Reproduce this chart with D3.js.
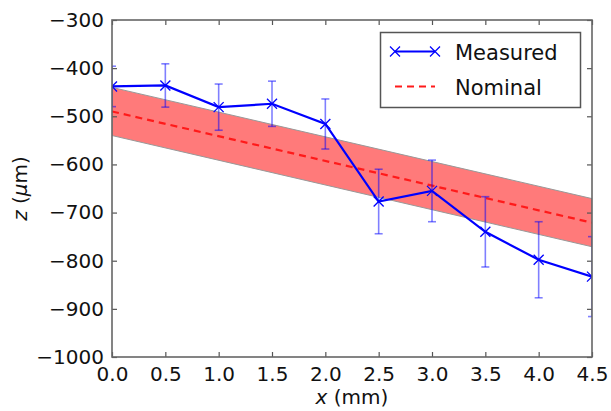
<!DOCTYPE html>
<html><head><meta charset="utf-8">
<script src="https://cdn.jsdelivr.net/npm/d3@7"></script>
<style>body{margin:0;background:#fff}svg{display:block}</style>
</head><body>
<script>
const xValues = [0, 0.5, 1.0, 1.5, 2.0, 2.5, 3.0, 3.5, 4.0, 4.5];
const measured = [-438, -436, -481, -474, -516, -677, -655, -740, -798, -833];
const measuredErr = [42, 45, 48, 47, 52, 67, 64, 73, 79, 83];
const nominalX = [0, 4.5];
const nominal = [-490, -721];
const tolerance = [50, 50];
const xTicks = [0, 0.5, 1.0, 1.5, 2.0, 2.5, 3.0, 3.5, 4.0, 4.5];
const yTicks = [-1000, -900, -800, -700, -600, -500, -400, -300];
const legendLabels = ["Measured", "Nominal"];

const W = 611, H = 411;
const m = {left: 112, right: 19, top: 20, bottom: 54};
const svg = d3.select("body").append("svg").attr("width", W).attr("height", H);
const x = d3.scaleLinear().domain([0, 4.5]).range([m.left, W - m.right]);
const y = d3.scaleLinear().domain([-1000, -300]).range([H - m.bottom, m.top]);
const font = "'DejaVu Sans', sans-serif";

svg.append("defs").append("clipPath").attr("id", "clip")
  .append("rect").attr("x", m.left).attr("y", m.top)
  .attr("width", W - m.left - m.right).attr("height", H - m.top - m.bottom);

const g = svg.append("g").attr("clip-path", "url(#clip)");

// tolerance band
const band = nominalX.map((v, i) => ({x: v, lo: nominal[i] - tolerance[i], hi: nominal[i] + tolerance[i], n: nominal[i]}));
g.append("path").datum(band)
  .attr("d", d3.area().x(d => x(d.x)).y0(d => y(d.lo)).y1(d => y(d.hi)))
  .attr("fill", "#ff7a7a").attr("stroke", "#999").attr("stroke-width", 1);
g.append("path").datum(band)
  .attr("d", d3.line().x(d => x(d.x)).y(d => y(d.n)))
  .attr("fill", "none").attr("stroke", "#ff1a1a").attr("stroke-width", 2.2).attr("stroke-dasharray", "7,5");

// error bars
const pts = xValues.map((v, i) => ({x: v, y: measured[i], e: measuredErr[i]}));
const eb = g.append("g").attr("stroke", "#0000ff").attr("stroke-opacity", 0.5).attr("stroke-width", 1.6);
pts.forEach(d => {
  eb.append("line").attr("x1", x(d.x)).attr("x2", x(d.x)).attr("y1", y(d.y - d.e)).attr("y2", y(d.y + d.e));
  [d.y - d.e, d.y + d.e].forEach(v => eb.append("line").attr("x1", x(d.x) - 4).attr("x2", x(d.x) + 4).attr("y1", y(v)).attr("y2", y(v)));
});

// measured line
g.append("path").datum(pts)
  .attr("d", d3.line().x(d => x(d.x)).y(d => y(d.y)))
  .attr("fill", "none").attr("stroke", "#0000ff").attr("stroke-width", 2.2);
const mk = g.append("g").attr("stroke", "#0000ff").attr("stroke-width", 1.3);
pts.forEach(d => {
  const cx = x(d.x), cy = y(d.y), s = 5;
  mk.append("line").attr("x1", cx - s).attr("y1", cy - s).attr("x2", cx + s).attr("y2", cy + s);
  mk.append("line").attr("x1", cx - s).attr("y1", cy + s).attr("x2", cx + s).attr("y2", cy - s);
});

// axes
const fmtX = d3.format(".1f");
const fmtY = v => (v < 0 ? "\u2212" : "") + Math.abs(v);
function styleAxis(sel) {
  sel.select(".domain").remove();
  sel.selectAll(".tick line").attr("stroke", "#555").attr("stroke-width", 1.2);
  sel.selectAll("text").attr("font-family", font).attr("font-size", 20).attr("fill", "#111");
}
svg.append("g").attr("transform", `translate(0,${H - m.bottom})`)
  .call(d3.axisBottom(x).tickValues(xTicks).tickFormat(fmtX).tickSize(-5).tickPadding(10)).call(styleAxis);
svg.append("g").attr("transform", `translate(0,${m.top})`)
  .call(d3.axisTop(x).tickValues(xTicks).tickSize(-5).tickFormat("")).call(styleAxis);
svg.append("g").attr("transform", `translate(${m.left},0)`)
  .call(d3.axisLeft(y).tickValues(yTicks).tickFormat(fmtY).tickSize(-5).tickPadding(8)).call(styleAxis);
svg.append("g").attr("transform", `translate(${W - m.right},0)`)
  .call(d3.axisRight(y).tickValues(yTicks).tickSize(-5).tickFormat("")).call(styleAxis);

svg.append("rect").attr("x", m.left).attr("y", m.top)
  .attr("width", W - m.left - m.right).attr("height", H - m.top - m.bottom)
  .attr("fill", "none").attr("stroke", "#666").attr("stroke-width", 1.6);

// axis labels
const xl = svg.append("text").attr("x", (m.left + W - m.right) / 2).attr("y", 404)
  .attr("text-anchor", "middle").attr("font-family", font).attr("font-size", 20).attr("fill", "#111");
xl.append("tspan").attr("font-style", "italic").text("x");
xl.append("tspan").text(" (mm)");
const yl = svg.append("text").attr("transform", `translate(27,${(m.top + H - m.bottom) / 2}) rotate(-90)`)
  .attr("text-anchor", "middle").attr("font-family", font).attr("font-size", 20).attr("fill", "#111");
yl.append("tspan").attr("font-style", "italic").text("z");
yl.append("tspan").text(" (");
yl.append("tspan").attr("font-style", "italic").text("\u03bc");
yl.append("tspan").text("m)");

// legend
const lg = svg.append("g");
lg.append("rect").attr("x", 380.5).attr("y", 32.5).attr("width", 200).attr("height", 75)
  .attr("fill", "#fff").attr("stroke", "#555").attr("stroke-width", 1.5);
lg.append("line").attr("x1", 395).attr("x2", 435).attr("y1", 51.5).attr("y2", 51.5)
  .attr("stroke", "#0000ff").attr("stroke-width", 2.2);
[395, 435].forEach(cx => {
  lg.append("line").attr("x1", cx - 5).attr("y1", 46.5).attr("x2", cx + 5).attr("y2", 56.5).attr("stroke", "#0000ff").attr("stroke-width", 1.3);
  lg.append("line").attr("x1", cx - 5).attr("y1", 56.5).attr("x2", cx + 5).attr("y2", 46.5).attr("stroke", "#0000ff").attr("stroke-width", 1.3);
});
lg.append("line").attr("x1", 395).attr("x2", 435).attr("y1", 86.5).attr("y2", 86.5)
  .attr("stroke", "#ff1a1a").attr("stroke-width", 2.2).attr("stroke-dasharray", "7,5");
legendLabels.forEach((t, i) => {
  lg.append("text").attr("x", 455).attr("y", 52 + i * 35).attr("dy", "0.36em")
    .attr("font-family", font).attr("font-size", 21).attr("fill", "#111").text(t);
});
</script>
</body></html>
